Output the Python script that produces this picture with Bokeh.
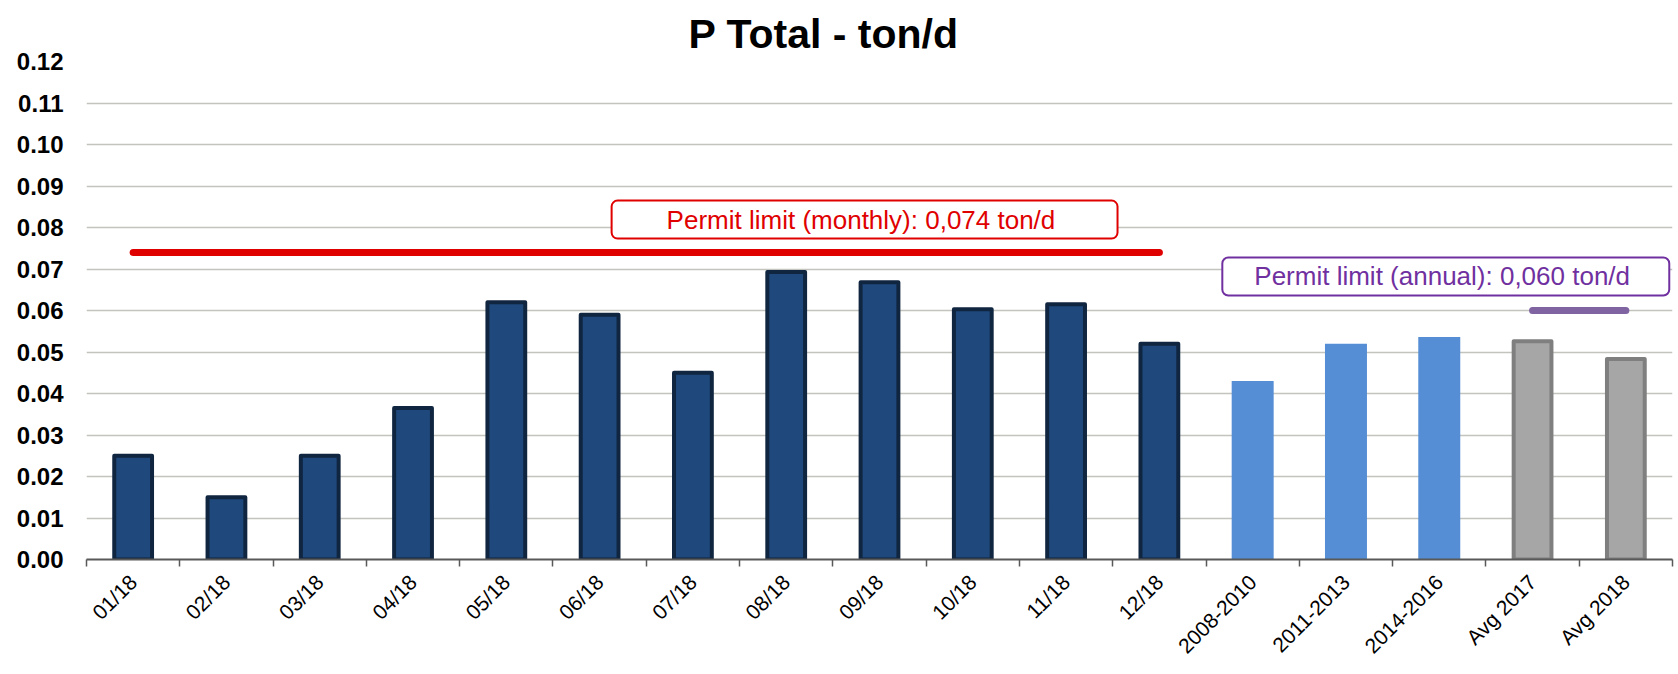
import math
from bokeh.plotting import figure
from bokeh.models import Range1d, FixedTicker, NumeralTickFormatter, Label, ColumnDataSource
from bokeh.embed import file_html
from bokeh.resources import INLINE

# ---------------- data ----------------
categories = ["01/18", "02/18", "03/18", "04/18", "05/18", "06/18", "07/18", "08/18",
              "09/18", "10/18", "11/18", "12/18", "2008-2010", "2011-2013", "2014-2016",
              "Avg 2017", "Avg 2018"]
values = [0.025, 0.015, 0.025, 0.0365, 0.062, 0.059, 0.045, 0.0693,
          0.0668, 0.0603, 0.0615, 0.052, 0.043, 0.052, 0.0536,
          0.0526, 0.0483]
groups = ["month"] * 12 + ["period"] * 3 + ["avg"] * 2
y_ticks = [0.00, 0.01, 0.02, 0.03, 0.04, 0.05, 0.06, 0.07, 0.08, 0.09, 0.10, 0.11, 0.12]
monthly_limit = 0.074
annual_limit = 0.060
monthly_limit_text = "Permit limit (monthly):  0,074 ton/d"
annual_limit_text = "Permit limit (annual):  0,060 ton/d"
title_text = "P Total - ton/d"

# ---------------- styles ----------------
styles = {
    "month": dict(fill_color="#1F497D", line_color="#10253F", line_width=4, width=0.405),
    "period": dict(fill_color="#558ED5", line_color=None, line_width=0, width=0.45),
    "avg": dict(fill_color="#A6A6A6", line_color="#7F7F7F", line_width=4, width=0.405),
}
FONT = "Liberation Sans"

n = len(categories)
idx = list(range(n))

p = figure(width=1678, height=674, output_backend="svg", toolbar_location=None, tools="",
           x_range=Range1d(-0.5, n - 0.5), y_range=Range1d(y_ticks[0], y_ticks[-1]),
           min_border_left=86, min_border_right=6, min_border_top=61, min_border_bottom=115)
p.outline_line_color = None
p.background_fill_color = "white"
p.border_fill_color = "white"

# title
p.title.text = title_text
p.title.align = "left"
p.title.offset = 602
p.title.text_font = FONT
p.title.text_font_size = "41px"
p.title.text_font_style = "bold"
p.title.text_color = "black"
p.title.standoff = 10

# bars
for g, st in styles.items():
    sel = [i for i in idx if groups[i] == g]
    src = ColumnDataSource(dict(x=sel, top=[values[i] for i in sel]))
    p.vbar(x="x", top="top", bottom=0, source=src, width=st["width"],
           fill_color=st["fill_color"], line_color=st["line_color"],
           line_width=st["line_width"], line_join="round")

# limit lines
month_idx = [i for i in idx if groups[i] == "month"]
avg_idx = [i for i in idx if groups[i] == "avg"]
p.line(x=[month_idx[0], month_idx[-1]], y=[monthly_limit, monthly_limit],
       line_color="#DF0000", line_width=7, line_cap="round")
p.line(x=[avg_idx[0], avg_idx[-1]], y=[annual_limit, annual_limit],
       line_color="#8064A2", line_width=7, line_cap="round")

# annotation boxes
p.add_layout(Label(x=7.84, y=0.0819, text=monthly_limit_text, text_align="center",
                   text_baseline="middle", text_font=FONT, text_font_size="26px",
                   text_color="#E00000", background_fill_color="white",
                   border_line_color="#E00000", border_line_width=2, border_radius=6,
                   padding=dict(left=55, right=55, top=4, bottom=4)))
p.add_layout(Label(x=14.07, y=0.0682, text=annual_limit_text, text_align="center",
                   text_baseline="middle", text_font=FONT, text_font_size="26px",
                   text_color="#7030A0", background_fill_color="white",
                   border_line_color="#7030A0", border_line_width=2, border_radius=6,
                   padding=dict(left=32, right=32, top=4, bottom=4)))

# x axis
xa = p.xaxis[0]
xa.ticker = FixedTicker(ticks=idx, minor_ticks=[i - 0.5 for i in range(n + 1)])
xa.major_label_overrides = {i: c for i, c in enumerate(categories)}
xa.major_label_orientation = math.pi / 4
xa.major_tick_line_color = None
xa.major_tick_out = 0
xa.major_tick_in = 0
xa.minor_tick_in = 0
xa.minor_tick_out = 7
xa.minor_tick_line_color = "#595959"
xa.minor_tick_line_width = 1.5
xa.axis_line_color = "#595959"
xa.axis_line_width = 2
xa.major_label_standoff = 12
xa.major_label_text_font = FONT
xa.major_label_text_font_size = "21px"
xa.major_label_text_color = "black"

# y axis
ya = p.yaxis[0]
ya.ticker = FixedTicker(ticks=y_ticks)
ya.formatter = NumeralTickFormatter(format="0.00")
ya.axis_line_color = None
ya.major_tick_line_color = None
ya.minor_tick_line_color = None
ya.major_tick_out = 0
ya.major_tick_in = 0
ya.major_label_standoff = 23
ya.major_label_text_font = FONT
ya.major_label_text_font_size = "24px"
ya.major_label_text_font_style = "bold"
ya.major_label_text_color = "black"

p.xgrid.visible = False
p.ygrid.grid_line_color = "#C4C4BE"
p.ygrid.grid_line_width = 1.5

open("out.html", "w").write(file_html(p, INLINE))
